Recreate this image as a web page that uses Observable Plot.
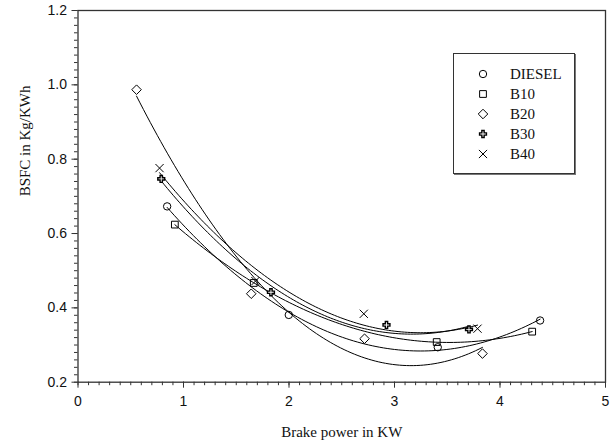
<!DOCTYPE html>
<html>
<head>
<meta charset="utf-8">
<script src="https://cdn.jsdelivr.net/npm/d3@7"></script>
<script src="https://cdn.jsdelivr.net/npm/@observablehq/plot@0.6"></script>
<style>
  body { margin: 0; background: #fff; }
  #chart { position: relative; width: 613px; height: 447px; }
  #legend {
    position: absolute; left: 453px; top: 53px; width: 120px; height: 119px;
    border: 1px solid #333; box-shadow: 1px 1px 0 #777; background: #fff;
    font-family: "Liberation Serif", "Times New Roman", serif; font-size: 15px; color: #111;
  }
  #legend .row { position: absolute; left: 0; height: 20px; }
  #legend svg { position: absolute; left: 20px; top: 1px; }
  #legend span { position: absolute; left: 56px; top: 1px; line-height: 18px; white-space: nowrap; }
</style>
</head>
<body>
<div id="chart"></div>
<script>
// Fuel blends and their measured points (brake power in kW, BSFC in kg/kWh)
const seriesNames = ["DIESEL", "B10", "B20", "B30", "B40"];
const powerDiesel = [0.845, 1.998, 3.41, 4.38];
const bsfcDiesel  = [0.673, 0.381, 0.294, 0.366];
const powerB10 = [0.918, 1.666, 3.40, 4.305];
const bsfcB10  = [0.624, 0.467, 0.308, 0.336];
const powerB20 = [0.555, 1.642, 2.716, 3.834];
const bsfcB20  = [0.987, 0.438, 0.317, 0.277];
const powerB30 = [0.789, 1.829, 2.924, 3.706];
const bsfcB30  = [0.747, 0.442, 0.354, 0.342];
const powerB40 = [0.773, 1.682, 2.709, 3.787];
const bsfcB40  = [0.776, 0.472, 0.384, 0.344];

const xTicks = [0, 1, 2, 3, 4, 5];
const yTicks = [0.2, 0.4, 0.6, 0.8, 1.0, 1.2];
const xLabel = "Brake power in KW";
const yLabel = "BSFC in Kg/KWh";

const powers = [powerDiesel, powerB10, powerB20, powerB30, powerB40];
const bsfcs = [bsfcDiesel, bsfcB10, bsfcB20, bsfcB30, bsfcB40];

// marker style per series
const markers = {
  DIESEL: {symbol: "circle", r: 3.7, fill: "none", sw: 1},
  B10: {symbol: "square2", r: 4.3, fill: "none", sw: 1},
  B20: {symbol: "diamond2", r: 4.3, fill: "none", sw: 1},
  B30: {symbol: "cross", r: 2.9, fill: "white", sw: 1.4},
  B40: {symbol: "times", r: 3.8, fill: "none", sw: 1}
};

const points = seriesNames.flatMap((s, i) =>
  powers[i].map((p, j) => ({series: s, power: p, bsfc: bsfcs[i][j]})));

// second-order least-squares fit of each series
function quadFit(xs, ys) {
  const S = [0, 0, 0, 0, 0], T = [0, 0, 0];
  xs.forEach((x, i) => {
    for (let k = 0; k < 5; k++) S[k] += x ** k;
    for (let k = 0; k < 3; k++) T[k] += ys[i] * x ** k;
  });
  const A = [[S[0], S[1], S[2], T[0]], [S[1], S[2], S[3], T[1]], [S[2], S[3], S[4], T[2]]];
  for (let c = 0; c < 3; c++) {
    for (let r = c + 1; r < 3; r++) {
      const f = A[r][c] / A[c][c];
      for (let k = c; k < 4; k++) A[r][k] -= f * A[c][k];
    }
  }
  const b = [0, 0, 0];
  for (let r = 2; r >= 0; r--) {
    let v = A[r][3];
    for (let k = r + 1; k < 3; k++) v -= A[r][k] * b[k];
    b[r] = v / A[r][r];
  }
  return x => b[0] + b[1] * x + b[2] * x * x;
}

const fits = seriesNames.flatMap((s, i) => {
  const f = quadFit(powers[i], bsfcs[i]);
  const [lo, hi] = d3.extent(powers[i]);
  return d3.range(0, 101).map(k => {
    const x = lo + (hi - lo) * k / 100;
    return {series: s, power: x, bsfc: f(x)};
  });
});

const sans = "'Liberation Sans', Arial, sans-serif";
const serif = "'Liberation Serif', 'Times New Roman', serif";

const chart = Plot.plot({
  width: 613,
  height: 447,
  marginLeft: 77.5,
  marginRight: 8,
  marginTop: 10,
  marginBottom: 65.3,
  style: {fontFamily: sans, fontSize: "14px", color: "#111", background: "#fff"},
  x: {domain: [0, 5]},
  y: {domain: [0.2, 1.2]},
  marks: [
    Plot.axisX({ticks: d3.range(0, 51).map(d => d / 10), tickSize: 3.5, fill: "none", label: null, stroke: "#333"}),
    Plot.axisY({ticks: d3.range(0, 51).map(d => 0.2 + d / 50), tickSize: 3.5, fill: "none", label: null, stroke: "#333"}),
    Plot.axisX({ticks: xTicks, tickSize: 6, tickPadding: 8, tickFormat: d => d, label: null, stroke: "#333"}),
    Plot.axisY({ticks: yTicks, tickSize: 6, tickPadding: 5, tickFormat: d3.format(".1f"), label: null, stroke: "#333"}),
    Plot.frame({stroke: "#333", strokeWidth: 1.3}),
    Plot.line(fits, {x: "power", y: "bsfc", z: "series", stroke: "black", strokeWidth: 1, curve: "linear"}),
    ...seriesNames.map(s => Plot.dot(points.filter(d => d.series === s), {
      x: "power", y: "bsfc", symbol: () => markers[s].symbol, r: markers[s].r,
      stroke: "black", strokeWidth: markers[s].sw, fill: markers[s].fill
    })),
    Plot.text([xLabel], {frameAnchor: "bottom", dy: 55, fontFamily: serif, fontSize: 15, fill: "#111"}),
    Plot.text([yLabel], {frameAnchor: "left", dx: -53, rotate: -90, fontFamily: serif, fontSize: 15, fill: "#111"})
  ]
});

const host = document.getElementById("chart");
host.appendChild(chart);

// legend box inside the plot area
const legend = document.createElement("div");
legend.id = "legend";
const symbolTypes = {circle: d3.symbolCircle, square2: d3.symbolSquare2, diamond2: d3.symbolDiamond2,
                     cross: d3.symbolCross, times: d3.symbolTimes};
seriesNames.forEach((s, i) => {
  const row = document.createElement("div");
  row.className = "row";
  row.style.top = (10 + i * 20) + "px";
  row.style.width = "100%";
  const m = markers[s];
  const svg = d3.create("svg").attr("width", 18).attr("height", 18);
  svg.append("path")
    .attr("transform", "translate(9,9)")
    .attr("d", d3.symbol(symbolTypes[m.symbol], Math.PI * m.r * m.r)())
    .attr("fill", m.fill).attr("stroke", "black").attr("stroke-width", m.sw);
  row.appendChild(svg.node());
  const label = document.createElement("span");
  label.textContent = s;
  row.appendChild(label);
  legend.appendChild(row);
});
host.appendChild(legend);
</script>
</body>
</html>
